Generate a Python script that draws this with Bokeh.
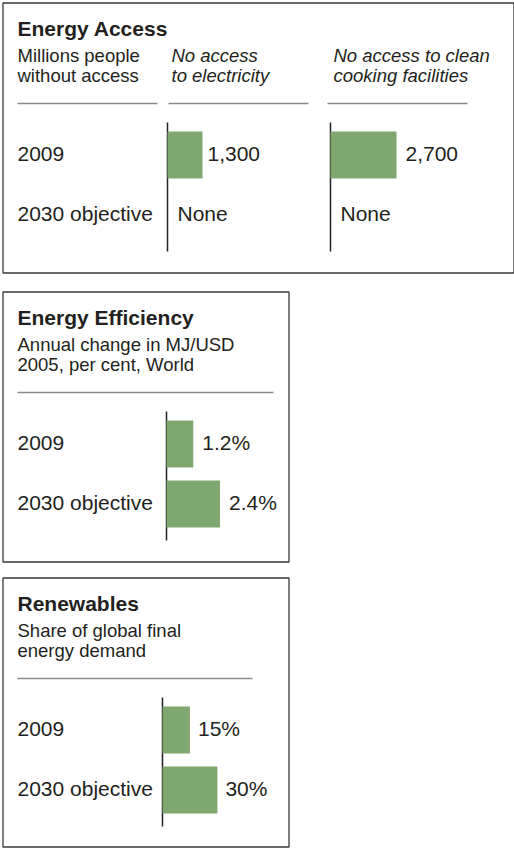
from bokeh.plotting import figure
from bokeh.models import Range1d
from bokeh.core.properties import value
from bokeh.embed import file_html
from bokeh.resources import INLINE

# ---------------- data ----------------
row_labels = ["2009", "2030 objective"]

access_title = "Energy Access"
access_subtitle = ["Millions people", "without access"]
elec_header = ["No access", "to electricity"]
cook_header = ["No access to clean", "cooking facilities"]
elec_values = [1300, None]
cook_values = [2700, None]
elec_labels = ["1,300", "None"]
cook_labels = ["2,700", "None"]

eff_title = "Energy Efficiency"
eff_subtitle = ["Annual change in MJ/USD", "2005, per cent, World"]
eff_values = [1.2, 2.4]
eff_labels = ["1.2%", "2.4%"]

ren_title = "Renewables"
ren_subtitle = ["Share of global final", "energy demand"]
ren_values = [15, 30]
ren_labels = ["15%", "30%"]

# ---------------- layout / style ----------------
W, H = 514, 848
FONT = value("Liberation Sans")
TXT = "#231f20"
BAR = "#7fa870"
BORDER = "#3a3a3a"
RULE = "#8a8a8a"
DY = -7  # baseline correction for text placement

p = figure(width=W, height=H, x_range=Range1d(0, W), y_range=Range1d(H, 0),
           output_backend="svg", toolbar_location=None, min_border=0,
           x_axis_type=None, y_axis_type=None, outline_line_color=None,
           background_fill_color="white", border_fill_color="white")
p.grid.visible = False

box_left = 2
box_tops = [2, 291, 577]
box_widths = [511, 286, 286]
box_hs = [270, 270, 269]

# boxes
p.quad(left=[box_left + 0.5] * 3, right=[box_left + w + 0.5 for w in box_widths],
       top=[t + 0.5 for t in box_tops], bottom=[t + h + 0.5 for t, h in zip(box_tops, box_hs)],
       fill_color=None, line_color=BORDER, line_width=1.3)

ROW_Y = [152.5, 212.5]      # bar centres relative to box top
ROW_BASE = [158, 218]       # text baselines relative to box top


def txt(xs, ys, texts, size="21px", style="normal", **kw):
    p.text(x=xs, y=[y + DY for y in ys], text=texts, text_font=FONT, text_font_size=size,
           text_font_style=style, text_color=TXT, text_baseline="alphabetic",
           text_align="left", **kw)


def header(top, title, subtitle):
    txt([box_left + 15], [top + 33], [title], size="21px", style="bold")
    txt([box_left + 15] * 2, [top + 60, top + 80], subtitle, size="18.5px")


def bar_group(name, top, axis_px, scale, vals, labels, gap=8):
    p.extra_x_ranges[name] = Range1d(-axis_px / scale, (W - axis_px) / scale)
    # axis line
    p.segment(x0=[0], x1=[0], y0=[top + 120], y1=[top + 249],
              x_range_name=name, line_color="#222222", line_width=1.5)
    ys = [top + ROW_Y[i] for i, v in enumerate(vals) if v is not None]
    vs = [v for v in vals if v is not None]
    if vs:
        p.hbar(y=ys, height=47, left=0, right=vs, x_range_name=name,
               fill_color=BAR, line_color=None)
    for i, v in enumerate(vals):
        if v is None:
            txt([0], [top + ROW_BASE[i]], [labels[i]], x_range_name=name, x_offset=10)
        else:
            txt([v], [top + ROW_BASE[i]], [labels[i]], x_range_name=name, x_offset=gap)


def rule(top, x0, x1):
    p.segment(x0=[box_left + x0], x1=[box_left + x1], y0=[top + 101], y1=[top + 101],
              line_color=RULE, line_width=1.3)


def row_names(top):
    txt([box_left + 15] * 2, [top + b for b in ROW_BASE], row_labels)


# ---- panel 1: Energy Access ----
t = box_tops[0]
header(t, access_title, access_subtitle)
txt([box_left + 169] * 2, [t + 60, t + 80], elec_header, size="18.5px", style="italic")
txt([box_left + 331] * 2, [t + 60, t + 80], cook_header, size="18.5px", style="italic")
rule(t, 15, 155)
rule(t, 166, 306)
rule(t, 325, 465)
row_names(t)
bar_group("elec", t, box_left + 165, 35 / 1300, elec_values, elec_labels, gap=5)
bar_group("cook", t, box_left + 328, 66 / 2700, cook_values, cook_labels, gap=9)

# ---- panel 2: Energy Efficiency ----
t = box_tops[1]
header(t, eff_title, eff_subtitle)
rule(t, 15, 271)
row_names(t)
bar_group("eff", t, box_left + 164, 22.3, eff_values, eff_labels, gap=9)

# ---- panel 3: Renewables ----
t = box_tops[2]
header(t, ren_title, ren_subtitle)
rule(t, 15, 250)
row_names(t)
bar_group("ren", t, box_left + 160, 1.83, ren_values, ren_labels, gap=8)

open("out.html", "w").write(file_html(p, INLINE))
